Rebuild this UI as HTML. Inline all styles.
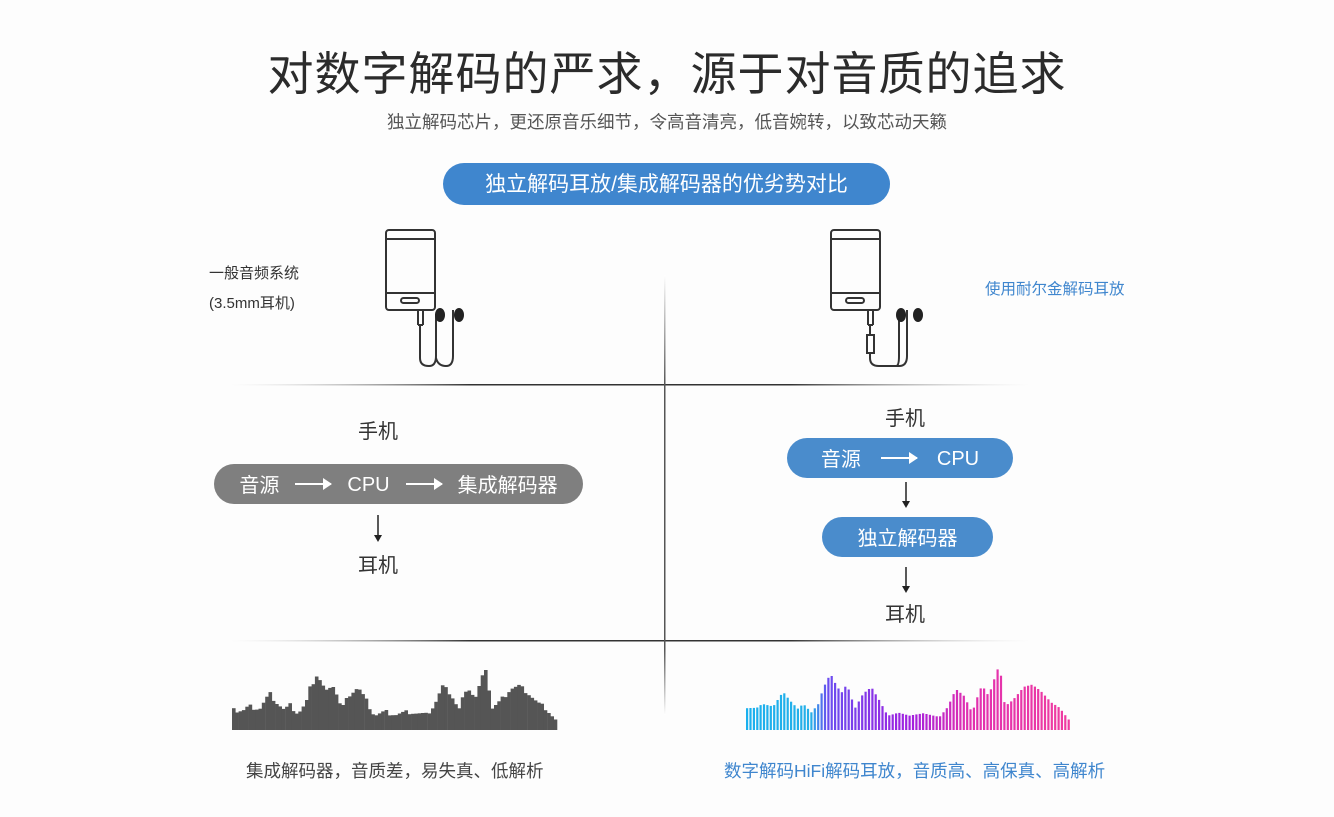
<!DOCTYPE html>
<html><head><meta charset="utf-8"><style>
body{margin:0;width:1334px;height:817px;background:#fdfdfd;font-family:"Liberation Sans","Noto Sans CJK SC",sans-serif;position:relative;overflow:hidden;color:#333}
.a{position:absolute;white-space:nowrap}
.pill{position:absolute;border-radius:22px;color:#fff;display:flex;align-items:center;justify-content:center;font-size:20px;font-family:"Noto Sans CJK SC",sans-serif;line-height:1}
.cpu{font-family:"Liberation Sans",sans-serif;position:relative;top:1px}
.ar{display:inline-block;width:36px;height:2px;background:#fff;position:relative;margin:0 16px}
.ar:after{content:"";position:absolute;right:-1px;top:-5px;border-left:9px solid #fff;border-top:6px solid transparent;border-bottom:6px solid transparent}
</style></head><body>
<div class="a" style="left:0;width:1334px;text-align:center;top:38px;font-size:46px;color:#2b2b2b;letter-spacing:1px">对数字解码的严求，源于对音质的追求</div>
<div class="a" style="left:0;width:1334px;text-align:center;top:109px;font-size:17.5px;color:#555">独立解码芯片，更还原音乐细节，令高音清亮，低音婉转，以致芯动天籁</div>
<div class="pill" style="left:443px;top:163px;width:447px;height:42px;background:#3f86ce;font-size:21px;font-family:'Liberation Sans','Noto Sans CJK SC',sans-serif">独立解码耳放/集成解码器的优劣势对比</div>
<div class="a" style="left:209px;top:262px;font-size:15px">一般音频系统</div>
<div class="a" style="left:209px;top:292px;font-size:15px">(3.5mm耳机)</div>
<div class="a" style="left:985px;top:277px;font-size:15.5px;color:#3f86ce">使用耐尔金解码耳放</div>
<svg class="a" style="left:0;top:0" width="1334" height="817">
<defs>
<linearGradient id="h" x1="0" x2="1"><stop offset="0" stop-color="#ccc" stop-opacity="0"/><stop offset=".3" stop-color="#333"/><stop offset=".7" stop-color="#333"/><stop offset="1" stop-color="#ccc" stop-opacity="0"/></linearGradient>
<linearGradient id="v" x1="0" y1="0" x2="0" y2="1"><stop offset="0" stop-color="#fff"/><stop offset=".25" stop-color="#555"/><stop offset=".85" stop-color="#555"/><stop offset="1" stop-color="#fff"/></linearGradient>
<linearGradient id="c" gradientUnits="userSpaceOnUse" x1="746" y1="0" x2="1072" y2="0"><stop offset="0" stop-color="#1ab0ee"/><stop offset=".2" stop-color="#25b0e8"/><stop offset=".25" stop-color="#6a4df0"/><stop offset=".5" stop-color="#a020e0"/><stop offset=".68" stop-color="#e030b0"/><stop offset="1" stop-color="#f03ca0"/></linearGradient>
</defs>
<rect x="230" y="384" width="800" height="1.5" fill="url(#h)"/>
<rect x="230" y="640" width="800" height="1.5" fill="url(#h)"/>
<rect x="664" y="275" width="1.5" height="440" fill="url(#v)"/>
<g fill="none" stroke="#333" stroke-width="2">
<rect x="386" y="230" width="49" height="80" rx="3"/><line x1="386" y1="239" x2="435" y2="239"/><line x1="386" y1="293" x2="435" y2="293"/><rect x="401" y="298" width="18" height="5" rx="2.5"/>
<path d="M418 310v15M423 310v15M418 325h5M420 325v33q0 8 9 8q7 0 7-10v-42M436 358q2 8 10 8q7 0 7-10v-46"/>
<rect x="831" y="230" width="49" height="80" rx="3"/><line x1="831" y1="239" x2="880" y2="239"/><line x1="831" y1="293" x2="880" y2="293"/><rect x="846" y="298" width="18" height="5" rx="2.5"/>
<path d="M868 310v15M873 310v15M868 325h5M870 325v10M867 335h7v18h-7zM870 353v5q0 8 9 8h20q8 0 8-10v-46M896 366q3 0 3-10v-44"/>
</g>
<g fill="#222"><ellipse cx="440" cy="315" rx="5" ry="7"/><ellipse cx="459" cy="315" rx="5" ry="7"/><ellipse cx="901" cy="315" rx="5" ry="7"/><ellipse cx="918" cy="315" rx="5" ry="7"/></g>
<g stroke="#222" stroke-width="1.5" fill="#222">
<line x1="378" y1="515" x2="378" y2="540"/><path d="M374 535l4 7 4-7z" stroke="none"/>
<line x1="906" y1="482" x2="906" y2="506"/><path d="M902 501l4 7 4-7z" stroke="none"/>
<line x1="906" y1="567" x2="906" y2="591"/><path d="M902 586l4 7 4-7z" stroke="none"/>
</g>
<g id="bl"></g><g id="br"></g>
</svg>
<div class="a" style="left:358px;top:415px;font-size:20px">手机</div>
<div class="pill" style="left:214px;top:464px;width:369px;height:40px;background:#7f7f7f"><span>音源</span><span class="ar"></span><span class="cpu">CPU</span><span class="ar"></span><span>集成解码器</span></div>
<div class="a" style="left:358px;top:549px;font-size:20px">耳机</div>
<div class="a" style="left:885px;top:402px;font-size:20px">手机</div>
<div class="pill" style="left:787px;top:438px;width:226px;height:40px;background:#4a8ccc"><span>音源</span><span class="ar" style="margin:0 20px"></span><span class="cpu">CPU</span></div>
<div class="pill" style="left:822px;top:517px;width:171px;height:40px;background:#4a8ccc">独立解码器</div>
<div class="a" style="left:885px;top:598px;font-size:20px">耳机</div>
<div class="a" style="left:246px;top:758px;font-size:17.5px;color:#444">集成解码器，音质差，易失真、低解析</div>
<div class="a" style="left:724px;top:758px;font-size:17.5px;color:#3f86ce">数字解码HiFi解码耳放，音质高、高保真、高解析</div>
<script>
var pts=[[0,182],[18,180],[28,168],[48,175],[66,130],[78,155],[93,180],[103,165],[118,190],[133,160],[138,122],[153,72],[163,105],[173,130],[183,103],[198,175],[213,130],[228,110],[243,150],[258,195],[278,185],[298,193],[323,185],[353,195],[368,165],[383,110],[398,130],[413,180],[428,105],[443,145],[463,48],[473,175],[488,155],[508,115],[523,108],[538,125],[558,160],[573,175],[590,210]];
function y(x){for(var i=1;i<pts.length;i++){if(x<=pts[i][0]){var a=pts[i-1],b=pts[i];var t=(x-a[0])/(b[0]-a[0]);return a[1]+(b[1]-a[1])*t+((x*7919)%11-5)*1.5;}}return 210;}
var s="";
for(var i=0;i<98;i++){var zx=i*590/97;var h=Math.max(8,(240-y(zx))/3);var x=232+i*325/98;s+='<rect x="'+x.toFixed(1)+'" y="'+(730-h).toFixed(1)+'" width="3.6" height="'+h.toFixed(1)+'"/>';}
document.getElementById('bl').outerHTML='<g fill="#555">'+s+'</g>';
s="";
for(var i=0;i<96;i++){var zx=i*590/95;var h=Math.max(6,(240-y(zx))/3);var x=746+i*325/96;s+='<rect x="'+x.toFixed(1)+'" y="'+(730-h).toFixed(1)+'" width="2.2" height="'+h.toFixed(1)+'"/>';}
document.getElementById('br').outerHTML='<g fill="url(#c)">'+s+'</g>';
</script>
</body></html>
